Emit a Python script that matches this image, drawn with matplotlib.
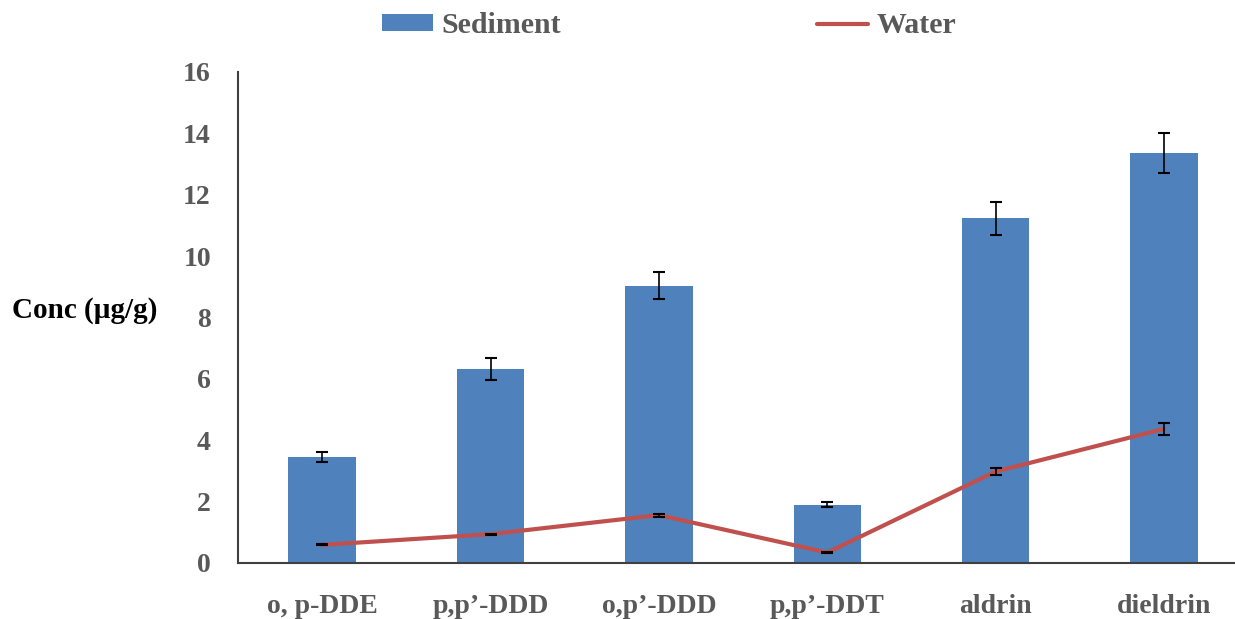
import matplotlib
matplotlib.use('Agg')
import matplotlib.pyplot as plt
import numpy as np

compounds = ['o, p-DDE', 'p,p\u2019-DDD', 'o,p\u2019-DDD', 'p,p\u2019-DDT', 'aldrin', 'dieldrin']
sediment = [3.45, 6.32, 9.04, 1.90, 11.23, 13.37]
sediment_err = [0.17, 0.35, 0.44, 0.08, 0.54, 0.65]
water = [0.59, 0.94, 1.56, 0.34, 2.98, 4.37]
water_err = [0.02, 0.02, 0.05, 0.03, 0.12, 0.20]

plt.rcParams['font.family'] = ['Liberation Serif', 'DejaVu Serif']
plt.rcParams['font.weight'] = 'bold'
txt_color = '#595959'

fig = plt.figure(figsize=(12.35, 6.19), dpi=100)
ax = fig.add_axes([0.1927, 0.0905, 0.818, 0.7932])

x = np.arange(len(compounds))
bars = ax.bar(x, sediment, width=0.4, color='#4F81BD', label='Sediment',
              yerr=sediment_err, error_kw=dict(ecolor='black', elinewidth=1.2, capsize=4.5, capthick=1.5))
line, = ax.plot(x, water, color='#C0504D', lw=3, label='Water', solid_capstyle='round')
ax.errorbar(x, water, yerr=water_err, fmt='none', ecolor='black', elinewidth=1.2, capsize=4.5, capthick=1.5)

ax.set_xlim(-0.5, 5.5)
ax.set_ylim(0, 16)
ax.set_yticks(range(0, 17, 2))
ax.set_xticks(x)
ax.set_xticklabels(compounds)
ax.tick_params(axis='both', length=0, labelsize=20, labelcolor=txt_color)
ax.tick_params(axis='y', pad=19.5)
ax.tick_params(axis='x', pad=22)
for s in ['top', 'right']:
    ax.spines[s].set_visible(False)
for s in ['left', 'bottom']:
    ax.spines[s].set_color('#404040')
    ax.spines[s].set_linewidth(1.5)

fig.text(0.01, 0.498, 'Conc (\u00b5g/g)', fontsize=21, color='black', va='center', ha='left')

fig.legend([bars, line], ['Sediment', 'Water'], loc='center', bbox_to_anchor=(0.5417, 0.958),
           ncol=2, frameon=False, fontsize=21.5, handlelength=1.7, handleheight=0.5,
           handletextpad=0.27, columnspacing=8.6, labelcolor=txt_color)

fig.savefig('out.png', dpi=100)
